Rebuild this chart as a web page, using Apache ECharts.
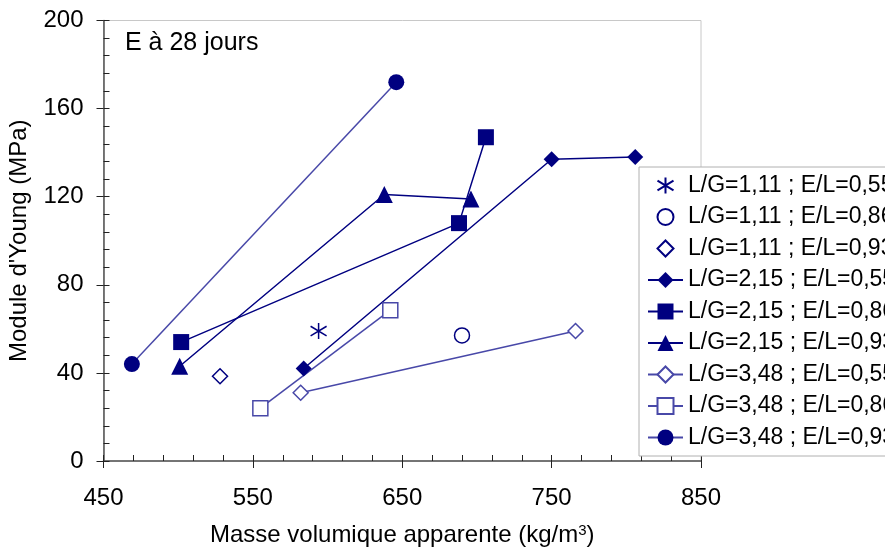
<!DOCTYPE html>
<html>
<head>
<meta charset="utf-8">
<script src="https://cdn.jsdelivr.net/npm/echarts@6/dist/echarts.min.js"></script>
<style>
  html, body { margin: 0; padding: 0; background: #fff; }
  #chart { width: 885px; height: 549px; }
</style>
</head>
<body>
<div id="chart"></div>
<script>
// values
const seriesNames = [
  'L/G=1,11 ; E/L=0,55', 'L/G=1,11 ; E/L=0,86', 'L/G=1,11 ; E/L=0,93',
  'L/G=2,15 ; E/L=0,55', 'L/G=2,15 ; E/L=0,86', 'L/G=2,15 ; E/L=0,93',
  'L/G=3,48 ; E/L=0,55', 'L/G=3,48 ; E/L=0,86', 'L/G=3,48 ; E/L=0,93'
];
const lg111_055 = [[594, 59]];
const lg111_086 = [[690, 57]];
const lg111_093 = [[528, 38.5]];
const lg215_055 = [[584, 42], [750, 137], [806, 138]];
const lg215_086 = [[502, 54], [688, 108], [706, 147]];
const lg215_093 = [[501, 43], [638, 121], [696, 119]];
const lg348_055 = [[582, 31], [766, 59]];
const lg348_086 = [[555, 24], [642, 68.5]];
const lg348_093 = [[469, 44], [646, 172]];

const xTicks = [450, 550, 650, 750, 850];
const yTicks = [0, 40, 80, 120, 160, 200];

const FONT = 'Liberation Sans, Arial, sans-serif';
const NAVY = '#000080';
const LIGHT = '#4848a8';
const ASTERISK = 'path://M0,-10L0,10M-8,-6L8,6M-8,6L8,-6';

const chart = echarts.init(document.getElementById('chart'));

function axisPair(ticks, isX) {
  const range = {
    type: 'value',
    min: ticks[0],
    max: ticks[ticks.length - 1],
    interval: ticks[1] - ticks[0],
  };
  // inner axis: line, labels, inside major + minor ticks
  const main = Object.assign({}, range, {
    position: isX ? 'bottom' : 'left',
    axisLine: { show: true, onZero: false, lineStyle: { color: '#505050', width: 1.5 } },
    axisTick: { show: true, inside: true, length: 6, lineStyle: { color: '#222' } },
    minorTick: { show: true, splitNumber: 5, length: 6, lineStyle: { color: '#222' } },
    splitLine: { show: false },
    axisLabel: { fontSize: 24, fontFamily: FONT, color: '#000', margin: isX ? 25 : 20 },
  });
  // outer axis: only the outside half of the major ticks
  const outer = Object.assign({}, range, {
    position: isX ? 'bottom' : 'left',
    axisLine: { show: false, onZero: false },
    axisTick: { show: true, inside: false, length: 7, lineStyle: { color: '#222' } },
    splitLine: { show: false },
    axisLabel: { show: false },
  });
  return [main, outer];
}

const xAxes = axisPair(xTicks, true);
xAxes[0].name = '{t|Masse volumique apparente (kg/m}{s|3}{t|)}';
xAxes[0].nameLocation = 'middle';
xAxes[0].nameGap = 62;
xAxes[0].nameTextStyle = {
  rich: {
    t: { fontSize: 24, fontFamily: FONT, color: '#000' },
    s: { fontSize: 15, fontFamily: FONT, color: '#000', verticalAlign: 'top' },
  },
};

const yAxes = axisPair(yTicks, false);
yAxes[0].name = "Module d'Young (MPa)";
yAxes[0].nameLocation = 'middle';
yAxes[0].nameGap = 72;
yAxes[0].nameTextStyle = { fontSize: 24, fontFamily: FONT, color: '#000' };

// points only: a line series with an invisible line keeps the legend icon small
function pts(name, data, symbol, size, color, filled) {
  return {
    name: name,
    type: 'line',
    data: data,
    symbol: symbol,
    symbolSize: size,
    lineStyle: { width: 0, opacity: 0 },
    itemStyle: filled
      ? { color: color, borderWidth: 0 }
      : { color: '#fff', borderColor: color, borderWidth: 1.5 },
    emphasis: { disabled: true },
  };
}

function curve(name, data, symbol, size, color, lineColor, filled) {
  return {
    name: name,
    type: 'line',
    data: data,
    symbol: symbol,
    symbolSize: size,
    showAllSymbol: true,
    lineStyle: { color: lineColor, width: 1.5 },
    itemStyle: filled
      ? { color: color, borderWidth: 0 }
      : { color: '#fff', borderColor: color, borderWidth: 1.5 },
    emphasis: { disabled: true },
  };
}

const asteriskSeries = pts(seriesNames[0], lg111_055, ASTERISK, 16, NAVY, false);
asteriskSeries.itemStyle = { color: 'none', borderColor: NAVY, borderWidth: 1.5 };

const option = {
  animation: false,
  backgroundColor: '#fff',
  title: {
    text: 'E à 28 jours',
    left: 125,
    top: 31,
    padding: 0,
    textStyle: { fontSize: 25, fontWeight: 'normal', fontFamily: FONT, color: '#000' },
  },
  grid: {
    left: 103.5,
    right: 184,
    top: 20.5,
    bottom: 88,
    outerBoundsMode: 'none',
    containLabel: false,
    show: true,
    borderColor: '#c8c8c8',
    borderWidth: 1,
    backgroundColor: 'transparent',
  },
  legend: {
    orient: 'vertical',
    left: 639,
    top: 167,
    padding: [7, 10, 7, 8],
    itemGap: 8.5,
    itemWidth: 35,
    itemHeight: 20,
    backgroundColor: '#fff',
    borderColor: '#b0b0b0',
    borderWidth: 1,
    textStyle: { fontSize: 23, fontFamily: FONT, color: '#000' },
    data: seriesNames,
  },
  xAxis: xAxes,
  yAxis: yAxes,
  series: [
    asteriskSeries,
    pts(seriesNames[1], lg111_086, 'circle', 15, NAVY, false),
    pts(seriesNames[2], lg111_093, 'diamond', 15, NAVY, false),
    curve(seriesNames[3], lg215_055, 'diamond', 16, NAVY, NAVY, true),
    curve(seriesNames[4], lg215_086, 'rect', 16, NAVY, NAVY, true),
    curve(seriesNames[5], lg215_093, 'triangle', 17, NAVY, NAVY, true),
    curve(seriesNames[6], lg348_055, 'diamond', 15, LIGHT, LIGHT, false),
    curve(seriesNames[7], lg348_086, 'rect', 15, LIGHT, LIGHT, false),
    curve(seriesNames[8], lg348_093, 'circle', 16, NAVY, LIGHT, true),
  ],
};

chart.setOption(option);
</script>
</body>
</html>
